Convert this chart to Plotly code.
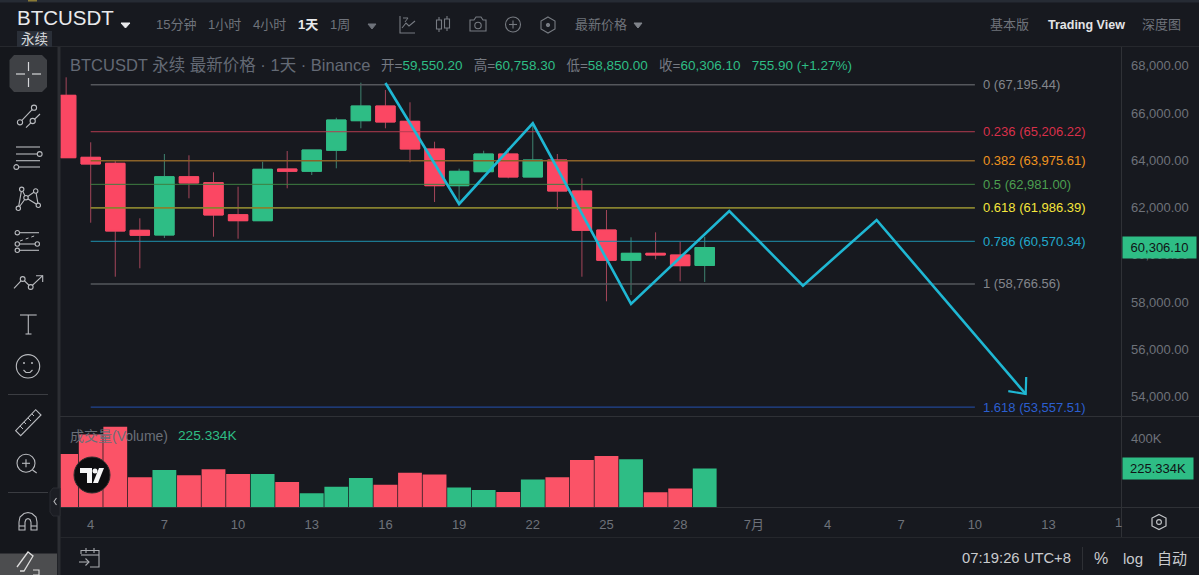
import plotly.graph_objects as go

W, H = 1199, 575

# Daily candles, June 3 to June 29 (BTCUSDT perpetual)
days = list(range(3, 30))
opens = [66747, 64124, 63870, 61036, 60837, 63303, 63050, 61696, 61442, 63629, 63532, 64420, 65672, 66294, 65647,
         64475, 62923, 63515, 64264, 63291, 64010, 62698, 61049, 59767, 60063, 59991, 59550.2]
highs = [67508, 64759, 63968, 61544, 64264, 64209, 63490, 62880, 63938, 64390, 64433, 65799, 67280, 66971, 66451,
         64784, 63642, 64403, 64517, 65575, 64264, 63236, 61895, 60740, 60951, 60554, 60758.3]
lows = [64107, 61358, 59073, 59429, 60710, 62390, 60766, 60681, 61442, 62813, 63375, 63659, 65351, 65351, 63912,
        62233, 62106, 63515, 63236, 63291, 61895, 59073, 58033, 58299, 59809, 58879, 58850]
closes = [64107, 63841, 61006, 60825, 63303, 63037, 61683, 61442, 63617, 63532, 64433, 65702, 66294, 65617, 64475,
          62923, 63532, 64264, 63291, 64010, 62698, 61036, 59767, 60063, 59991, 59539, 60306.1]
volumes = [311000, 426000, 471000, 174000, 217000, 186000, 221000, 194000, 194000, 147000, 80000, 119000, 170000,
           131000, 201000, 190000, 115000, 100000, 88000, 162000, 174000, 276000, 299000, 280000, 86000, 108000,
           225334]

# Fibonacci retracement levels
fib_levels = ["0", "0.236", "0.382", "0.5", "0.618", "0.786", "1", "1.618"]
fib_prices = [67195.44, 65206.22, 63975.61, 62981.00, 61986.39, 60570.34, 58766.56, 53557.51]
fib_line_colors = ["#55575c", "#b23c50", "#8a6229", "#3f7f42", "#87822f", "#1f90ad", "#55575c", "#2451b0"]
fib_text_colors = ["#83868c", "#d9304a", "#f0941f", "#4c9f50", "#f5e63c", "#22a9cc", "#83868c", "#2c5fd0"]
fib_line_widths = [1.6, 1, 1.6, 1, 1.6, 1, 1.6, 1]
fib_start, fib_end = 4, 40

# Projected wave path and arrow barbs
wave_x = [16, 19, 22, 26, 30, 33, 36, 42.07]
wave_y = [67267, 62150, 65563, 57920, 61853, 58695, 61472, 54112]
barb_x = [41.36, 42.07, 42.09]
barb_y = [54230, 54112, 54830]

price_ticks = [68000, 66000, 64000, 62000, 60000, 58000, 56000, 54000]
volume_ticks = [400000]
date_ticks = [4, 7, 10, 13, 16, 19, 22, 25, 28, 31, 34, 37, 40, 43]
date_labels = ["4", "7", "10", "13", "16", "19", "22", "25", "28", "7月", "4", "7", "10", "13"]

BG = "#17191f"
SIDE = "#15171c"
EDGE = "#2c2e33"
RED = "#fb4763"
GREEN = "#2ebd85"
RED_WICK = "#a4465a"
GREEN_WICK = "#3f8370"
VOL_RED = "#fb5367"
CYAN = "#1fb7d3"
AXIS_TEXT = "#6e727a"
ICON = "#b9bbbf"
SANS = "Liberation Sans, Noto Sans CJK SC, sans-serif"


def fx(x):
    return x / W


def fy(y):
    return 1 - y / H


def path(points, close=False):
    d = "M" + " L".join(f"{fx(x):.5f},{fy(y):.5f}" for x, y in points)
    return d + (" Z" if close else "")


shapes = []


def rect(x0, y0, x1, y1, fill, layer="above"):
    shapes.append(dict(type="rect", xref="paper", yref="paper", x0=fx(x0), x1=fx(x1), y0=fy(y0), y1=fy(y1),
                       fillcolor=fill, line=dict(width=0), layer=layer))


def line(points, color=ICON, width=1.1, close=False, fill=None):
    s = dict(type="path", xref="paper", yref="paper", path=path(points, close),
             line=dict(color=color, width=width), layer="above")
    if fill:
        s["fillcolor"] = fill
    shapes.append(s)


def circle(cx, cy, r, color=ICON, width=1.1, fill=None):
    shapes.append(dict(type="circle", xref="paper", yref="paper", x0=fx(cx - r), x1=fx(cx + r),
                       y0=fy(cy - r), y1=fy(cy + r), line=dict(color=color, width=width),
                       fillcolor=fill or "rgba(0,0,0,0)", layer="above"))


annotations = []


def label(x, y, text, color=AXIS_TEXT, size=12, anchor="left"):
    annotations.append(dict(xref="paper", yref="paper", x=fx(x - 1 if anchor == "left" else x), y=fy(y), text=text,
                            showarrow=False, xanchor=anchor, yanchor="middle", borderpad=0,
                            font=dict(color=color, size=size, family=SANS)))


# Panels and separators
rect(0, 0, W, 2.5, "#262b34")
rect(28, 0, 37, 1.5, "#8a7a35")
rect(0, 47, 57.5, H, SIDE)
rect(57.5, 47, 60.5, H, EDGE)
rect(0, 46, W, 47, "#26282d")
rect(60, 416, W, 417, "#2f3136")
rect(60, 507, W, 508, "#2f3136")
rect(60, 537, W, 538, "#25272c")
rect(1121, 47, 1122, 537, "#2f3136")

# Header text
label(17, 17, "BTCUSDT", "#e9eaec", 20.5)
rect(17, 31, 52, 47, "#2a2f38")
label(34.5, 39.5, "永续", "#d5d7da", 13.5, "center")
line([(121, 23), (130, 23), (125.5, 28)], "#e9eaec", 1, True, "#e9eaec")
for x, text, col in [(176, "15分钟", "#6f737b"), (224.5, "1小时", "#6f737b"), (269, "4小时", "#6f737b"),
                     (308, "<b>1天</b>", "#e9eaec"), (340, "1周", "#6f737b")]:
    label(x, 25, text, col, 13, "center")
line([(368, 24), (376, 24), (372, 29)], "#6f737b", 1, True, "#6f737b")
label(601, 25, "最新价格", "#6f737b", 13, "center")
line([(634, 23), (642, 23), (638, 28)], "#80848b", 1, True, "#80848b")
label(1009.5, 25, "基本版", "#6f737b", 13, "center")
label(1086, 25, "<b>Trading View</b>", "#e3e4e6", 12.5, "center")
label(1161.5, 25, "深度图", "#6f737b", 13, "center")

# Header icons
HI = "#777b82"
line([(400, 16), (400, 33), (415, 33)], HI)
line([(402, 28), (406, 23), (409, 26), (415, 21)], HI)
line([(403, 18), (408, 18), (405, 22)], HI, 1)
for cx, top, bot, t2, b2 in [(439, 20, 29, 17, 32), (447, 19, 28, 16, 31)]:
    line([(cx - 2.5, top), (cx + 2.5, top), (cx + 2.5, bot), (cx - 2.5, bot)], HI, 1.1, True)
    line([(cx, t2), (cx, top)], HI)
    line([(cx, bot), (cx, b2)], HI)
line([(470, 20), (474, 20), (476, 17), (481, 17), (483, 20), (486, 20), (486, 31), (470, 31)], HI, 1.1, True)
circle(478, 25.5, 3.2, HI)
circle(513, 24.5, 7.5, HI)
line([(509, 24.5), (517, 24.5)], HI)
line([(513, 20.5), (513, 28.5)], HI)
line([(548, 17), (555, 21), (555, 29), (548, 33), (541, 29), (541, 21)], HI, 1.1, True)
circle(548, 25, 1.7, HI, 1, HI)

# Chart legend
label(70, 65, "BTCUSDT 永续 最新价格 · 1天 · Binance", "#646a75", 16.5)
g = lambda v: f'<span style="color:{GREEN}">{v:,.2f}</span>'
change = closes[-1] - opens[-1]
pct = change / opens[-1] * 100
gap = "\u00a0\u00a0\u00a0"
label(381, 65,
      f"开={g(opens[-1])}{gap}高={g(highs[-1])}{gap}低={g(lows[-1])}{gap}收={g(closes[-1])}{gap}"
      f'<span style="color:{GREEN}">{change:,.2f} (+{pct:.2f}%)</span>', "#767a82", 13.5)
label(70, 436, "成交量(Volume)", "#6a6f78", 14)
label(178, 435, f"{volumes[-1] / 1000:.3f}K", GREEN, 13.7)
label(1118.6, 522, "1", AXIS_TEXT, 13, "center")

# Crosshair button
shapes.append(dict(type="path", xref="paper", yref="paper", layer="above", fillcolor="#3f4145", line=dict(width=0),
                   path=path([(14, 55), (42, 55), (47, 60), (47, 87), (42, 92), (14, 92), (9.5, 87), (9.5, 60)], True)))
for seg in [[(16, 74), (25, 74)], [(32, 74), (41, 74)], [(28.5, 62), (28.5, 71)], [(28.5, 78), (28.5, 87)]]:
    line(seg, "#d6d7d9", 1.2)

# Drawing tool icons
line([(20, 122.3), (34, 107.7)])
circle(34, 107.7, 2.6, ICON, 1.1, SIDE)
circle(20, 122.3, 2.6, ICON, 1.1, SIDE)
line([(26, 127.7), (40, 114)])
circle(32.7, 121, 2.6, ICON, 1.1, SIDE)
line([(16, 147), (40, 147)])
line([(16, 154), (38, 154)])
circle(39.7, 154, 2.4, ICON, 1.1, SIDE)
line([(16, 160.7), (40, 160.7)])
line([(18, 167), (40, 167)])
circle(16.3, 167, 2.4, ICON, 1.1, SIDE)
xabcd = [(18.3, 208.3), (21.7, 189.3), (26, 197.7), (35.7, 191), (38.3, 205.3), (26, 197.7), (18.3, 208.3)]
line(xabcd)
for p in xabcd[:5]:
    circle(p[0], p[1], 2.2, ICON, 1.1, SIDE)
line([(19, 232.7), (39, 232.7)])
line([(19, 244), (36, 244)])
line([(19, 250.3), (39, 250.3)])
line([(20, 241), (37, 235)], ICON, 1)
shapes[-1]["line"]["dash"] = "dot"
for p in [(17.3, 232.7), (17.3, 244), (37.3, 244), (17.3, 250.3)]:
    circle(p[0], p[1], 2.2, ICON, 1.1, SIDE)
line([(14, 288.3), (22.7, 279), (30.7, 287), (42.7, 275.7)])
line([(36, 275.7), (42.7, 275.7), (42.7, 282)])
circle(22.7, 279, 2.4, ICON, 1.1, SIDE)
circle(30.7, 287, 2.4, ICON, 1.1, SIDE)
line([(20, 315), (36.7, 315)])
line([(28.3, 315), (28.3, 334)])
line([(25.5, 334), (31.5, 334)])
circle(28, 366.3, 11.7)
circle(24, 363, 0.6, ICON, 1, ICON)
circle(32, 363, 0.6, ICON, 1, ICON)
line([(23.5, 370), (26, 372.5), (30, 372.5), (32.5, 370)])
line([(8, 394.5), (48, 394.5)], "#3b3d42", 1)
line([(15.7, 430.7), (35.7, 409.7), (41, 415), (20.7, 435.7)], ICON, 1.1, True)
for a, b in [((20, 426), (23, 429)), ((24, 422), (26, 424)), ((28, 418), (31, 421)), ((32, 414), (34, 416))]:
    line([a, b], ICON, 1)
circle(26, 463.3, 9)
line([(32.5, 470), (36.7, 473)])
line([(22, 463.3), (30, 463.3)])
line([(26, 459.3), (26, 467.3)])
line([(8, 492.5), (48, 492.5)], "#3b3d42", 1)
line([(19, 530), (19, 522), (20, 517), (24, 513.5), (28, 512.5), (32, 513.5), (36, 517), (37, 522), (37, 530),
      (31, 530), (31, 522), (30, 519.5), (28, 518.5), (26, 519.5), (25, 522), (25, 530)], ICON, 1.1, True)
line([(19, 526), (25, 526)])
line([(31, 526), (37, 526)])
rect(0, 553.5, 57, H, "#4c4d4f")
line([(17, 567), (28, 552), (33, 556), (24, 571), (20, 571)], "#dcdcdc", 1.3)
line([(33, 570), (39, 570), (39, 575), (33, 575)], "#dcdcdc", 1.1)

# Collapse handle
shapes.append(dict(type="path", xref="paper", yref="paper", layer="above", fillcolor="#1c1e24",
                   line=dict(color="#2a2c32", width=1),
                   path=path([(53, 488), (60, 488), (60, 516), (53, 516), (50, 512), (50, 492)], True)))
line([(56.5, 498), (54, 501.5), (56.5, 505)], "#b5b6b9", 1.1)

# Chart watermark
circle(92, 475, 18, "#2f2f2f", 1, "#0d0d0f")
shapes.append(dict(type="path", xref="paper", yref="paper", layer="above", fillcolor="#f5f5f5", line=dict(width=0),
                   path=path([(80, 468), (92, 468), (92, 483), (87, 483), (87, 473), (80, 473)], True)))
circle(95, 471, 2.5, "#f5f5f5", 0, "#f5f5f5")
shapes.append(dict(type="path", xref="paper", yref="paper", layer="above", fillcolor="#f5f5f5", line=dict(width=0),
                   path=path([(99, 468), (104, 468), (98, 483), (93, 483)], True)))

# Footer icons and status
BI = "#a9abb0"
line([(81, 554), (81, 550.5), (99, 550.5), (99, 567), (90, 567)], BI)
line([(81, 555), (99, 555)], BI)
line([(86, 548), (86, 553)], BI)
line([(94, 548), (94, 553)], BI)
line([(79, 562), (89, 562)], BI)
line([(85.5, 558.5), (89, 562), (85.5, 565.5)], BI)
label(1016.5, 558, "07:19:26 UTC+8", "#c9cbce", 14.8, "center")
rect(1082, 547, 1083, 570, "#2e3035")
label(1101, 558, "%", "#c9cbce", 16, "center")
label(1132.5, 558, "log", "#c9cbce", 15, "center")
label(1172, 558, "自动", "#c9cbce", 15, "center")
line([(1159, 514.5), (1166, 518), (1166, 526), (1159, 529.5), (1152, 526), (1152, 518)], "#c5c7ca", 1.2, True)
circle(1159, 522, 2.4, "#c5c7ca")

fig = go.Figure()

# Retracement levels and their labels
for level, price, lc, tc, lw in zip(fib_levels, fib_prices, fib_line_colors, fib_text_colors, fib_line_widths):
    fig.add_trace(go.Scatter(x=[fib_start, fib_end], y=[price, price], mode="lines",
                             line=dict(color=lc, width=lw), hoverinfo="skip", showlegend=False))
    annotations.append(dict(xref="x", yref="y", x=fib_end + 0.26, y=price, text=f"{level} ({price:,.2f})",
                            showarrow=False, xanchor="left", yanchor="middle",
                            font=dict(color=tc, size=13, family=SANS)))

# Projected path
fig.add_trace(go.Scatter(x=wave_x, y=wave_y, mode="lines", line=dict(color=CYAN, width=2.6), hoverinfo="skip",
                         showlegend=False))
fig.add_trace(go.Scatter(x=barb_x, y=barb_y, mode="lines", line=dict(color=CYAN, width=2.2), hoverinfo="skip",
                         showlegend=False))

# Wicks sit under the bodies in a dimmer tone
fig.add_trace(go.Candlestick(x=days, open=opens, high=highs, low=lows, close=closes, whiskerwidth=0,
                             increasing=dict(line=dict(color=GREEN_WICK, width=1), fillcolor=GREEN_WICK),
                             decreasing=dict(line=dict(color=RED_WICK, width=1), fillcolor=RED_WICK),
                             hoverinfo="skip", showlegend=False))
body_top = [max(o, c) for o, c in zip(opens, closes)]
body_bot = [min(o, c) for o, c in zip(opens, closes)]
fig.add_trace(go.Candlestick(x=days, open=opens, high=body_top, low=body_bot, close=closes, whiskerwidth=0,
                             increasing=dict(line=dict(color=GREEN, width=1), fillcolor=GREEN),
                             decreasing=dict(line=dict(color=RED, width=1), fillcolor=RED),
                             hoverinfo="skip", showlegend=False))

# Volume pane
vol_colors = [GREEN if c >= o else VOL_RED for o, c in zip(opens, closes)]
fig.add_trace(go.Bar(x=days, y=volumes, marker=dict(color=vol_colors, line=dict(width=0)), xaxis="x2", yaxis="y2",
                     hoverinfo="skip", showlegend=False))

# Last-value tags on the price and volume scales
annotations.append(dict(xref="paper", yref="y", x=fx(1122), y=closes[-1], xanchor="left", yanchor="middle",
                        text=f"{closes[-1]:,.2f}", showarrow=False, bgcolor=GREEN, width=71, height=19,
                        font=dict(color="#101316", size=13, family=SANS)))
annotations.append(dict(xref="paper", yref="y2", x=fx(1122), y=volumes[-1], xanchor="left", yanchor="middle",
                        text=f"{volumes[-1] / 1000:.3f}K", showarrow=False, bgcolor=GREEN, width=68, height=19,
                        font=dict(color="#101316", size=13, family=SANS)))

x_range = [2.77, 45.95]
price_range = [53181, 68790]
volume_range = [0, 534000]

fig.update_layout(
    width=W, height=H, autosize=False, margin=dict(l=0, r=0, t=0, b=0),
    paper_bgcolor=BG, plot_bgcolor=BG, showlegend=False,
    boxmode="overlay", boxgap=0.21, boxgroupgap=0, bargap=0.03,
    font=dict(family=SANS, color=AXIS_TEXT, size=12),
    xaxis=dict(domain=[fx(60.5), fx(1121)], range=x_range, anchor="y", visible=False,
               rangeslider=dict(visible=False), fixedrange=True),
    yaxis=dict(domain=[fy(416), fy(47)], range=price_range, side="right", anchor="x", tickmode="array",
               tickvals=price_ticks, ticktext=[f"{v:,.2f}" for v in price_ticks], showgrid=False, zeroline=False,
               showline=False, ticks="", ticklabelstandoff=9, tickfont=dict(size=13, color=AXIS_TEXT)),
    xaxis2=dict(domain=[fx(60.5), fx(1121)], range=x_range, anchor="y2", tickmode="array", tickvals=date_ticks,
                ticktext=date_labels, showgrid=False, zeroline=False, showline=False, ticks="",
                ticklabelstandoff=8, tickfont=dict(size=13, color=AXIS_TEXT), matches="x"),
    yaxis2=dict(domain=[fy(507), fy(416)], range=volume_range, side="right", anchor="x2", tickmode="array",
                tickvals=volume_ticks, ticktext=["400K"], showgrid=False, zeroline=False, showline=False, ticks="",
                ticklabelstandoff=9, tickfont=dict(size=13, color=AXIS_TEXT)),
    shapes=shapes, annotations=annotations,
)

fig.write_html("out.html", config=dict(displayModeBar=False, responsive=False))
